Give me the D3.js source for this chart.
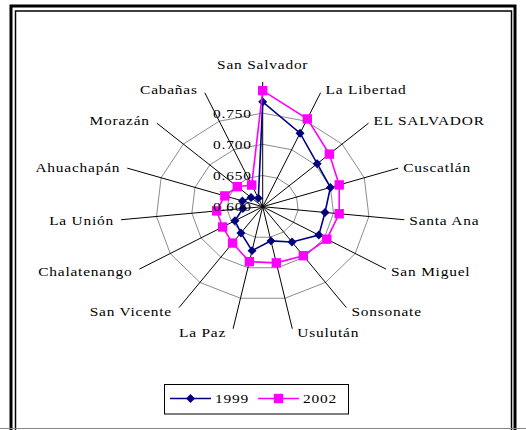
<!DOCTYPE html>
<html>
<head>
<meta charset="utf-8">
<script src="https://cdn.jsdelivr.net/npm/d3@7"></script>
<style>
  html, body { margin: 0; padding: 0; background: #fff; }
  svg { display: block; }
</style>
</head>
<body>
<svg id="chart" width="526" height="430"></svg>
<script>
// ---- data ----
const categories = ["San Salvador", "La Libertad", "EL SALVADOR", "Cuscatlán", "Santa Ana",
  "San Miguel", "Sonsonate", "Usulután", "La Paz", "San Vicente", "Chalatenango",
  "La Unión", "Ahuachapán", "Morazán", "Cabañas"];
const values1999 = [0.768, 0.729, 0.703, 0.700, 0.688, 0.691, 0.670, 0.656, 0.672, 0.652,
  0.645, 0.628, 0.630, 0.622, 0.615];
const values2002 = [0.786, 0.754, 0.726, 0.713, 0.708, 0.704, 0.697, 0.692, 0.690, 0.672,
  0.665, 0.665, 0.656, 0.648, 0.638];
const seriesNames = ["1999", "2002"];
const tickValues = [0.60, 0.65, 0.70, 0.75];
const tickLabels = ["0.600", "0.650", "0.700", "0.750"];
const axisMax = 0.80;

// ---- layout ----
const FONT = "'Liberation Serif', 'DejaVu Serif', 'Times New Roman', serif";
const svg = d3.select("#chart");
const cx = 262.7, cy = 206.7;
const stretch = 1.14;
const rX = d3.scaleLinear().domain([0.60, axisMax]).range([0, 142.4]);
const rY = d3.scaleLinear().domain([0.60, axisMax]).range([0, 124.8]);
const ang = d3.scaleLinear().domain([0, categories.length]).range([0, 2 * Math.PI]);
const pt = (i, v) => [cx + rX(v) * Math.sin(ang(i)), cy - rY(v) * Math.cos(ang(i))];

function label(sel, x, y, anchor, txt) {
  return sel.append("text")
    .attr("transform", `translate(${x},${y}) scale(${stretch},1)`)
    .attr("text-anchor", anchor).attr("dominant-baseline", "central")
    .attr("font-family", FONT).attr("font-size", 13.5).attr("letter-spacing", 0.7)
    .attr("fill", "#000")
    .text(txt);
}

// frame
svg.append("rect").attr("x", 11).attr("y", 6).attr("width", 504).attr("height", 430)
  .attr("fill", "none").attr("stroke", "#000").attr("stroke-width", 3);
svg.append("rect").attr("x", 15.5).attr("y", 11).attr("width", 496).attr("height", 420)
  .attr("fill", "none").attr("stroke", "#000").attr("stroke-width", 1.5);
svg.append("line").attr("x1", 0).attr("x2", 526).attr("y1", 428.5).attr("y2", 428.5)
  .attr("stroke", "#888").attr("stroke-width", 1);

// rings
tickValues.filter(t => t > 0.60).forEach(t => {
  const pts = categories.map((c, i) => pt(i, t));
  svg.append("path").attr("d", d3.line()(pts) + "Z")
    .attr("fill", "none").attr("stroke", "#8c8c8c").attr("stroke-width", 1);
});

// spokes
categories.forEach((c, i) => {
  const [x, y] = pt(i, axisMax);
  svg.append("line").attr("x1", cx).attr("y1", cy).attr("x2", x).attr("y2", y)
    .attr("stroke", "#000").attr("stroke-width", 1);
});

// category labels
categories.forEach((c, i) => {
  const a = ang(i);
  const s = Math.sin(a), co = Math.cos(a);
  let [x, y] = pt(i, axisMax);
  let anchor;
  if (Math.abs(s) < 0.1) { anchor = "middle"; y = y - 18; }
  else if (s > 0) { anchor = "start"; x = x + 5; y = y - 4 * co; }
  else { anchor = "end"; x = x - 7; y = y - 4 * co; }
  label(svg, x, y, anchor, c);
});

// series
const seriesData = [values1999, values2002];
const colors = ["#000080", "#FF00FF"];
const diamond = d3.symbol(d3.symbolSquare, 40);
const square = d3.symbol(d3.symbolSquare, 88);
seriesData.forEach((vals, k) => {
  const pts = vals.map((v, i) => pt(i, v));
  svg.append("path").attr("d", d3.line()(pts) + "Z")
    .attr("fill", "none").attr("stroke", colors[k]).attr("stroke-width", 1.6);
  pts.forEach(p => {
    svg.append("path")
      .attr("d", k === 0 ? diamond() : square())
      .attr("transform", `translate(${p[0]},${p[1]})` + (k === 0 ? " rotate(45)" : ""))
      .attr("fill", colors[k]);
  });
});

// tick labels
tickValues.forEach((t, j) => {
  label(svg, cx - 11, cy - rY(t), "end", tickLabels[j]);
});

// legend
const lg = svg.append("g");
lg.append("rect").attr("x", 164.5).attr("y", 384.5).attr("width", 184).attr("height", 29.5)
  .attr("fill", "#fff").attr("stroke", "#000").attr("stroke-width", 1);
const legendX = [170, 258];
seriesNames.forEach((name, k) => {
  const x0 = legendX[k], ly = 398.5;
  lg.append("line").attr("x1", x0).attr("x2", x0 + 41).attr("y1", ly).attr("y2", ly)
    .attr("stroke", colors[k]).attr("stroke-width", 1.6);
  lg.append("path").attr("d", k === 0 ? diamond() : square())
    .attr("transform", `translate(${x0 + 20.5},${ly})` + (k === 0 ? " rotate(45)" : ""))
    .attr("fill", colors[k]);
  label(lg, x0 + 45, ly, "start", name);
});
</script>
</body>
</html>
